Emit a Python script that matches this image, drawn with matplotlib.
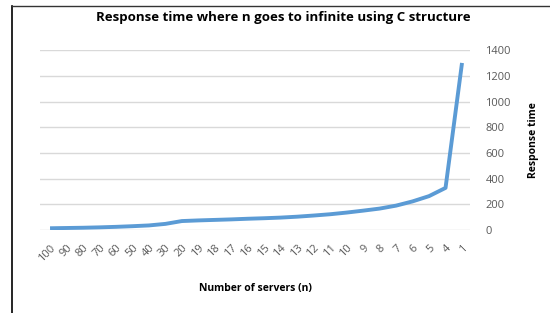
import matplotlib
matplotlib.use('Agg')
import matplotlib.pyplot as plt
from matplotlib.lines import Line2D

# data
servers = ['100', '90', '80', '70', '60', '50', '40', '30', '20', '19', '18', '17',
           '16', '15', '14', '13', '12', '11', '10', '9', '8', '7', '6', '5', '4', '1']
response = [14, 16, 18, 21, 25, 30, 36, 48, 70, 75, 79, 83,
            88, 92, 97, 104, 113, 123, 136, 151, 167, 190, 223, 264, 328, 1300]
yticks = [0, 200, 400, 600, 800, 1000, 1200, 1400]

plt.rcParams['font.family'] = ['Open Sans', 'DejaVu Sans']

fig = plt.figure(figsize=(5.5, 3.13), dpi=100)
ax = fig.add_axes([0.073, 0.265, 0.782, 0.575])

x = list(range(len(servers)))
ax.plot(x, response, color='#5B9BD5', linewidth=2.8, solid_capstyle='butt', zorder=3)

ax.set_xlim(-0.6, 25.5)
ax.set_ylim(0, 1400)
ax.set_yticks(yticks)
ax.set_xticks(x)
ax.set_xticklabels(servers, rotation=45, ha='right', rotation_mode='anchor')

ax.yaxis.tick_right()
ax.yaxis.set_label_position('right')
ax.tick_params(axis='y', length=0, pad=11, labelsize=8, labelcolor='#595959')
ax.tick_params(axis='x', length=0, pad=9, labelsize=8, labelcolor='#595959')
for lab in ax.get_yticklabels():
    lab.set_horizontalalignment('left')

ax.grid(axis='y', color='#D9D9D9', linewidth=1.0)
ax.set_axisbelow(True)
for s in ax.spines.values():
    s.set_visible(False)

ax.set_xlabel('Number of servers (n)', fontsize=7.5, fontweight='bold', labelpad=14)
ax.set_ylabel('Response time', fontsize=7.5, fontweight='bold', labelpad=12)
fig.text(0.515, 0.945, 'Response time where n goes to infinite using C structure',
         ha='center', va='center', fontsize=9.5, fontweight='bold')

# page border around the chart
fig.add_artist(Line2D([0.021, 0.021], [0.0, 0.98], transform=fig.transFigure,
                      color='black', linewidth=1.2))
fig.add_artist(Line2D([0.021, 1.0], [0.98, 0.98], transform=fig.transFigure,
                      color='#333333', linewidth=1.0))

fig.savefig('out.png', dpi=100)
